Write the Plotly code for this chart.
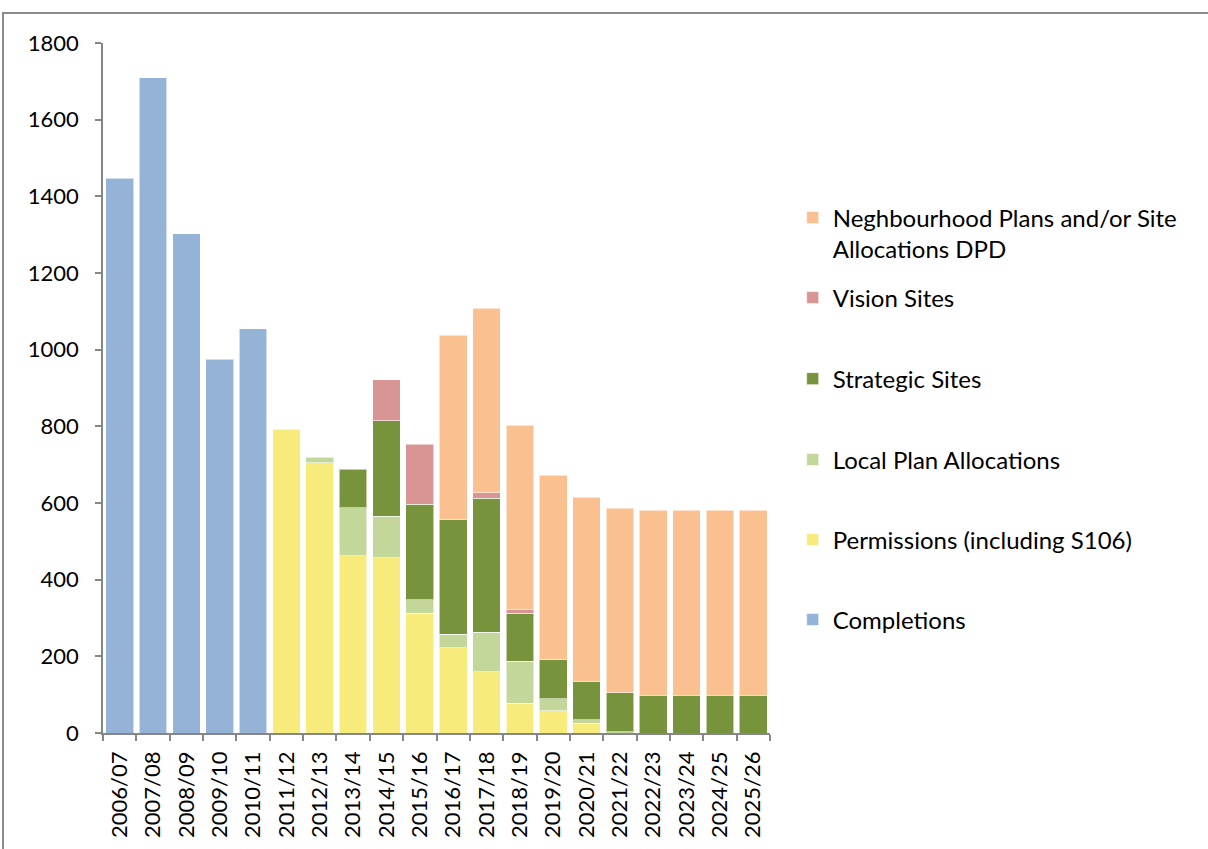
import plotly.graph_objects as go

categories = ["2006/07", "2007/08", "2008/09", "2009/10", "2010/11", "2011/12", "2012/13",
              "2013/14", "2014/15", "2015/16", "2016/17", "2017/18", "2018/19", "2019/20",
              "2020/21", "2021/22", "2022/23", "2023/24", "2024/25", "2025/26"]

completions = [1447, 1710, 1303, 975, 1055, None, None, None, None, None,
               None, None, None, None, None, None, None, None, None, None]
permissions = [None, None, None, None, None, 792, 705, 463, 457, 312,
               222, 160, 78, 58, 26, None, None, None, None, None]
local_plan = [None, None, None, None, None, None, 15, 125, 109, 35,
              35, 103, 109, 32, 8, 3, None, None, None, None]
strategic = [None, None, None, None, None, None, None, 100, 249, 250,
             299, 349, 125, 101, 100, 102, 99, 99, 99, 99]
vision = [None, None, None, None, None, None, None, None, 106, 156,
          None, 15, 10, None, None, None, None, None, None, None]
neighbourhood = [None, None, None, None, None, None, None, None, None, None,
                 482, 481, 481, 482, 481, 481, 482, 482, 482, 482]

series = [
    ("Completions", completions, "#95B3D7", "legend6", 0.1638),
    ("Permissions (including S106)", permissions, "#F7EC7B", "legend5", 0.2797),
    ("Local Plan Allocations", local_plan, "#C4D79B", "legend4", 0.3957),
    ("Strategic Sites", strategic, "#77933C", "legend3", 0.5130),
    ("Vision Sites", vision, "#D99594", "legend2", 0.6304),
    ("Neghbourhood Plans and/or Site<br>Allocations DPD", neighbourhood, "#FAC090", "legend", 0.7239),
]

FONT = "Lato"
fig = go.Figure()
legend_layout = {}
for name, vals, color, leg, ly in series:
    fig.add_trace(go.Bar(
        x=categories, y=vals, name=name, legend=leg,
        marker=dict(color=color, line=dict(color="rgba(255,255,255,0.55)", width=1)),
    ))
    legend_layout[leg] = dict(
        x=1.034, y=ly, xanchor="left", yanchor="middle",
        font=dict(family=FONT, size=24, color="#000000"),
        bgcolor="rgba(0,0,0,0)", borderwidth=0, itemwidth=30,
        valign="top" if "<br>" in name else "middle",
    )

fig.update_layout(
    width=1208, height=849,
    margin=dict(l=103, r=438, t=43, b=116),
    paper_bgcolor="white", plot_bgcolor="white",
    barmode="stack", bargap=0.17,
    showlegend=True,
    font=dict(family=FONT, size=22, color="#000000"),
    **legend_layout,
)

fig.update_yaxes(
    range=[0, 1800], dtick=200, tick0=0,
    showgrid=False, zeroline=False,
    showline=True, linecolor="#868686", linewidth=1.5,
    ticks="outside", ticklen=6, tickcolor="#868686", tickwidth=1.5,
    tickfont=dict(family=FONT, size=22, color="#000000"),
    ticklabelstandoff=12,
)
fig.update_xaxes(
    type="category", tickangle=-90, tickson="boundaries",
    showgrid=False, showline=True, linecolor="#868686", linewidth=1.5,
    ticks="outside", ticklen=6, tickcolor="#868686", tickwidth=1.5,
    tickfont=dict(family=FONT, size=22, color="#000000"),
    ticklabelstandoff=8,
)

# outer chart frame
fig.add_shape(type="rect", xref="paper", yref="paper",
              x0=-0.1499, x1=2.2, y0=-0.6, y1=1.0435,
              line=dict(color="#8C8C8C", width=2), fillcolor="rgba(0,0,0,0)", layer="below")

fig.write_html("out.html", config={"displayModeBar": False},
               post_script="document.body.style.margin='0';document.body.style.overflow='hidden';")
